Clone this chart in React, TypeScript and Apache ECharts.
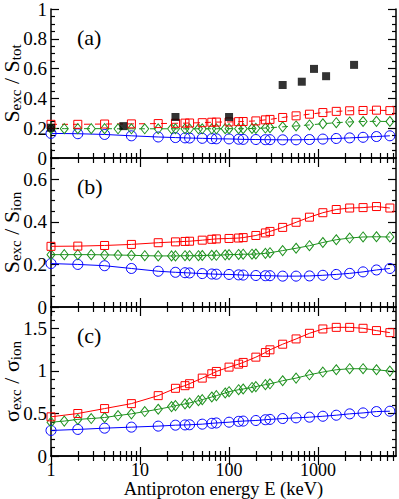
import React, { useEffect, useRef } from 'react';
import * as echarts from 'echarts';

// Energies (keV)
const E_MAIN = [1, 2, 4, 8, 16, 25, 32, 36, 50, 64, 72, 100, 128, 144, 200, 256, 288, 400, 566, 800, 1131, 1600, 2263, 3200, 4525, 6400];
const E_GREEN = [1, 1.41, 2, 2.83, 4, 5.66, 8, 11.3, 16, 22.6, 25, 32, 36, 45.3, 50, 64, 72, 90.5, 100, 128, 144, 181, 200, 256, 288, 400, 566, 800, 1131, 1600, 2263, 3200, 4525, 6400];

// Panel (a) S_exc / S_tot
const A_RED = [0.226, 0.226, 0.228, 0.229, 0.231, 0.233, 0.234, 0.235, 0.237, 0.240, 0.241, 0.242, 0.244, 0.245, 0.249, 0.256, 0.259, 0.272, 0.283, 0.294, 0.305, 0.313, 0.317, 0.319, 0.321, 0.318];
const A_GREEN = [0.197, 0.197, 0.197, 0.197, 0.197, 0.196, 0.196, 0.196, 0.196, 0.196, 0.196, 0.196, 0.196, 0.196, 0.196, 0.196, 0.196, 0.197, 0.197, 0.197, 0.197, 0.198, 0.199, 0.201, 0.203, 0.209, 0.215, 0.222, 0.230, 0.237, 0.242, 0.245, 0.246, 0.245];
const A_BLUE = [0.165, 0.163, 0.158, 0.149, 0.141, 0.137, 0.135, 0.134, 0.132, 0.130, 0.129, 0.128, 0.126, 0.125, 0.124, 0.123, 0.123, 0.122, 0.122, 0.124, 0.127, 0.131, 0.135, 0.139, 0.144, 0.149];
const EXP_E = [1, 6.5, 25, 100, 400, 656, 900, 1230, 2535];
const EXP_V = [0.203, 0.214, 0.275, 0.275, 0.49, 0.512, 0.598, 0.549, 0.625];

// Panel (b) S_exc / S_ion
const B_RED = [0.285, 0.286, 0.289, 0.294, 0.302, 0.306, 0.308, 0.309, 0.314, 0.318, 0.320, 0.322, 0.324, 0.326, 0.336, 0.348, 0.355, 0.374, 0.398, 0.422, 0.443, 0.458, 0.465, 0.467, 0.472, 0.465];
const B_GREEN = [0.246, 0.246, 0.246, 0.246, 0.245, 0.244, 0.243, 0.241, 0.240, 0.240, 0.240, 0.241, 0.241, 0.241, 0.242, 0.243, 0.243, 0.245, 0.246, 0.247, 0.248, 0.248, 0.249, 0.252, 0.255, 0.265, 0.276, 0.288, 0.303, 0.316, 0.324, 0.329, 0.330, 0.329];
const B_BLUE = [0.204, 0.200, 0.194, 0.181, 0.168, 0.163, 0.161, 0.160, 0.157, 0.155, 0.154, 0.153, 0.151, 0.150, 0.148, 0.147, 0.147, 0.145, 0.145, 0.146, 0.149, 0.153, 0.158, 0.165, 0.174, 0.181];

// Panel (c) sigma_exc / sigma_ion
const C_RED = [0.46, 0.499, 0.557, 0.615, 0.709, 0.795, 0.826, 0.849, 0.915, 0.966, 0.993, 1.044, 1.079, 1.099, 1.161, 1.215, 1.247, 1.313, 1.375, 1.441, 1.492, 1.511, 1.511, 1.5, 1.473, 1.449];
const C_GREEN = [0.397, 0.41, 0.43, 0.44, 0.452, 0.475, 0.495, 0.522, 0.549, 0.58, 0.592, 0.612, 0.623, 0.65, 0.662, 0.693, 0.709, 0.74, 0.755, 0.779, 0.787, 0.805, 0.815, 0.838, 0.848, 0.884, 0.915, 0.954, 0.986, 1.013, 1.025, 1.025, 1.013, 0.997];
const C_BLUE = [0.30, 0.312, 0.327, 0.339, 0.351, 0.362, 0.365, 0.367, 0.374, 0.384, 0.388, 0.397, 0.407, 0.41, 0.417, 0.426, 0.43, 0.44, 0.448, 0.456, 0.467, 0.479, 0.495, 0.506, 0.522, 0.526];

// Axes ticks / labels
const X_MIN = 1;
const X_MAX = 7500;
const X_MAJOR = [1, 10, 100, 1000];
const X_MINOR = [2, 3, 4, 5, 6, 7, 8, 9, 20, 30, 40, 50, 60, 70, 80, 90, 200, 300, 400, 500, 600, 700, 800, 900, 2000, 3000, 4000, 5000, 6000, 7000];
const A_MAX = 1;
const A_MAJOR = [0, 0.2, 0.4, 0.6, 0.8, 1];
const A_MINOR = [0.05, 0.1, 0.15, 0.25, 0.3, 0.35, 0.45, 0.5, 0.55, 0.65, 0.7, 0.75, 0.85, 0.9, 0.95];
const B_MAX = 0.7;
const B_MAJOR = [0, 0.2, 0.4, 0.6];
const B_MINOR = [0.05, 0.1, 0.15, 0.25, 0.3, 0.35, 0.45, 0.5, 0.55, 0.65];
const C_MAX = 1.75;
const C_MAJOR = [0, 0.5, 1, 1.5];
const C_MINOR = [0.1, 0.2, 0.3, 0.4, 0.6, 0.7, 0.8, 0.9, 1.1, 1.2, 1.3, 1.4, 1.6, 1.7];

const X_NAME = 'Antiproton energy E (keV)';
const NAME_A = '{m|S}{s|exc}{m| / S}{s|tot}';
const NAME_B = '{m|S}{s|exc}{m| / S}{s|ion}';
const NAME_C = '{m|σ}{s|exc}{m| / σ}{s|ion}';
const PANEL_LABELS = ['(a)', '(b)', '(c)'];

const RED = '#ff0000';
const GREEN = '#1f921f';
const BLUE = '#0000ff';
const FONT = 'Liberation Serif';

const GRID_TOPS = [9, 158, 307];
const GRID_H = 149;

export default function App() {
  const ref = useRef<HTMLDivElement>(null);
  useEffect(() => {
    document.body.style.margin = '0';
    const chart = echarts.init(ref.current!, null, { renderer: 'svg' });

    const lineW = { color: '#000', width: 1.5 };
    const tickW = { color: '#000', width: 1.2 };

    const xAxes = (g: number, showLabels: boolean) => {
      const base: any = { type: 'log', logBase: 10, gridIndex: g, min: X_MIN, max: X_MAX, splitLine: { show: false }, minorTick: { show: false } };
      const major = (pos: string, labels: boolean) => ({
        ...base,
        position: pos,
        axisLine: { show: true, lineStyle: lineW },
        axisTick: { show: true, inside: true, length: 9, customValues: X_MAJOR, lineStyle: tickW },
        axisLabel: {
          show: labels,
          customValues: X_MAJOR,
          formatter: (v: number) => String(Math.round(v)),
          fontSize: 18,
          fontFamily: FONT,
          color: '#000',
          margin: 5,
        },
        name: labels ? X_NAME : '',
        nameLocation: 'middle',
        nameGap: 23,
        nameMoveOverlap: false,
        nameTextStyle: { fontSize: 18.5, fontFamily: FONT, color: '#000' },
      });
      const minor = (pos: string) => ({
        ...base,
        position: pos,
        axisLine: { show: false },
        axisTick: { show: true, inside: true, length: 5, customValues: X_MINOR, lineStyle: tickW },
        axisLabel: { show: false },
      });
      return [major('bottom', showLabels), minor('bottom'), major('top', false), minor('top')];
    };

    const yAxes = (g: number, max: number, majors: number[], minors: number[], name: string) => {
      const base: any = { type: 'value', gridIndex: g, min: 0, max, splitLine: { show: false } };
      const major = (pos: string, labels: boolean) => ({
        ...base,
        position: pos,
        axisLine: { show: true, lineStyle: lineW },
        axisTick: { show: true, inside: true, length: 8, customValues: majors, lineStyle: tickW },
        axisLabel: {
          show: labels,
          customValues: majors,
          formatter: (v: number) => String(Math.round(v * 100) / 100),
          fontSize: 19,
          fontFamily: FONT,
          color: '#000',
          margin: 4,
        },
        name: labels ? name : '',
        nameLocation: 'middle',
        nameRotate: 90,
        nameGap: 28,
        nameMoveOverlap: false,
        nameTextStyle: {
          color: '#000',
          fontFamily: FONT,
          fontSize: 22,
          rich: {
            m: { fontSize: 22, fontFamily: FONT, color: '#000', lineHeight: 23 },
            s: { fontSize: 15, fontFamily: FONT, color: '#000', lineHeight: 14, verticalAlign: 'bottom' },
          },
        },
      });
      const minor = (pos: string) => ({
        ...base,
        position: pos,
        axisLine: { show: false },
        axisTick: { show: true, inside: true, length: 4, customValues: minors, lineStyle: tickW },
        axisLabel: { show: false },
      });
      return [major('left', true), minor('left'), major('right', false), minor('right')];
    };

    const lineSeries = (g: number, xs: number[], ys: number[], color: string, symbol: string, size: any, dashed: boolean) => ({
      type: 'line',
      xAxisIndex: g * 4,
      yAxisIndex: g * 4,
      data: xs.map((x, i) => [x, ys[i]]),
      symbol,
      symbolSize: size,
      showSymbol: true,
      showAllSymbol: true,
      clip: false,
      lineStyle: { color, width: 1, type: dashed ? [6, 5] : 'solid' },
      itemStyle: { color: 'rgba(0,0,0,0)', borderColor: color, borderWidth: 1 },
    });

    const option: any = {
      animation: false,
      backgroundColor: '#fff',
      grid: GRID_TOPS.map((t) => ({ left: 51, right: 3, top: t, height: GRID_H, containLabel: false, outerBoundsMode: 'none' })),
      xAxis: [...xAxes(0, false), ...xAxes(1, false), ...xAxes(2, true)],
      yAxis: [
        ...yAxes(0, A_MAX, A_MAJOR, A_MINOR, NAME_A),
        ...yAxes(1, B_MAX, B_MAJOR, B_MINOR, NAME_B),
        ...yAxes(2, C_MAX, C_MAJOR, C_MINOR, NAME_C),
      ],
      series: [
        lineSeries(0, E_MAIN, A_BLUE, BLUE, 'circle', 10, false),
        lineSeries(0, E_GREEN, A_GREEN, GREEN, 'diamond', [8, 10], true),
        lineSeries(0, E_MAIN, A_RED, RED, 'rect', 8, true),
        {
          type: 'scatter',
          xAxisIndex: 0,
          yAxisIndex: 0,
          data: EXP_E.map((x, i) => [x, EXP_V[i]]),
          symbol: 'rect',
          symbolSize: 8,
          clip: false,
          itemStyle: { color: '#000' },
          z: 5,
        },
        lineSeries(1, E_MAIN, B_BLUE, BLUE, 'circle', 10, false),
        lineSeries(1, E_GREEN, B_GREEN, GREEN, 'diamond', [8, 10], false),
        lineSeries(1, E_MAIN, B_RED, RED, 'rect', 8, false),
        lineSeries(2, E_MAIN, C_BLUE, BLUE, 'circle', 10, false),
        lineSeries(2, E_GREEN, C_GREEN, GREEN, 'diamond', [8, 10], false),
        lineSeries(2, E_MAIN, C_RED, RED, 'rect', 8, false),
      ],
      graphic: PANEL_LABELS.map((t, i) => ({
        type: 'text',
        left: 77,
        top: GRID_TOPS[i] + 17,
        style: { text: t, fontSize: 22, fontFamily: FONT, fill: '#000' },
      })),
    };

    chart.setOption(option);
    return () => chart.dispose();
  }, []);
  return <div ref={ref} style={{ width: 399, height: 499 }} />;
}
